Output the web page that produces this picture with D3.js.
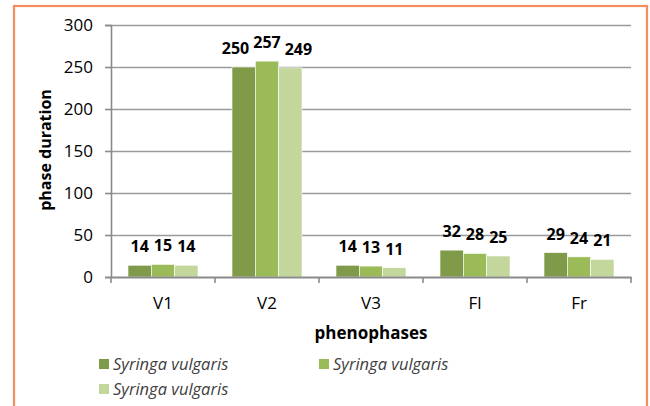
<!DOCTYPE html>
<html>
<head>
<meta charset="utf-8">
<script src="https://cdn.jsdelivr.net/npm/d3@7/dist/d3.min.js"></script>
<style>
  html, body { margin: 0; padding: 0; background: #fff; }
  svg { display: block; font-family: "Open Sans", sans-serif; }
</style>
</head>
<body>
<div id="chart"></div>
<script>
// data
const phases = ['V1', 'V2', 'V3', 'Fl', 'Fr']
const seriesNames = ['Syringa vulgaris', 'Syringa vulgaris', 'Syringa vulgaris']
const series1 = [14, 250, 14, 32, 29]
const series2 = [15, 257, 13, 28, 24]
const series3 = [14, 249, 11, 25, 21]
const yTicks = [0, 50, 100, 150, 200, 250, 300]

const colors = ['#7f9a48', '#9bbb59', '#c3d69b']
const allSeries = [series1, series2, series3]

const W = 650, H = 406
const margin = {top: 25, right: 19, bottom: 129, left: 111}
const width = W - margin.left - margin.right
const height = H - margin.top - margin.bottom

const svg = d3.select('#chart').append('svg')
  .attr('width', W)
  .attr('height', H)

// orange frame
svg.append('rect')
  .attr('x', 14).attr('y', 6)
  .attr('width', 633).attr('height', 420)
  .attr('fill', 'none')
  .attr('stroke', '#f58d5f')
  .attr('stroke-width', 2.2)

const g = svg.append('g')
  .attr('transform', 'translate(' + margin.left + ',' + margin.top + ')')

const x = d3.scaleBand().domain(phases).range([0, width]).paddingInner(0).paddingOuter(0)
const xs = d3.scaleBand().domain([0, 1, 2]).range([17, x.bandwidth() - 17])
const y = d3.scaleLinear().domain([0, 300]).range([height, 0])

// gridlines
g.selectAll('.grid')
  .data(yTicks.filter(d => d > 0))
  .enter().append('line')
  .attr('x1', 0).attr('x2', width)
  .attr('y1', d => y(d) + 0.5).attr('y2', d => y(d) + 0.5)
  .attr('stroke', '#9a9a9a')
  .attr('stroke-width', 1.6)

// y axis
const yAxis = g.append('g')
  .call(d3.axisLeft(y).tickValues(yTicks).tickSize(6).tickPadding(12))
yAxis.select('.domain').attr('stroke', '#8a8a8a').attr('stroke-width', 1.6)
yAxis.selectAll('.tick line').attr('stroke', '#8a8a8a').attr('stroke-width', 1.6)
yAxis.selectAll('.tick text')
  .style('font-size', '17px').style('fill', '#000')
  .style('font-family', '"Open Sans", sans-serif')

// bars + value labels
phases.forEach((p, i) => {
  let labels = []
  allSeries.forEach((s, k) => {
    g.append('rect')
      .attr('x', x(p) + xs(k))
      .attr('width', xs.bandwidth())
      .attr('y', y(s[i]))
      .attr('height', height - y(s[i]))
      .attr('fill', colors[k])
      .attr('stroke', '#fff')
      .attr('stroke-width', 0.6)
    let t = g.append('text')
      .attr('x', x(p) + xs(k) + xs.bandwidth() / 2)
      .attr('y', y(s[i]) - 13)
      .attr('text-anchor', 'middle')
      .style('font-size', '16px')
      .style('font-weight', 'bold')
      .text(s[i])
    labels.push(t)
  })
  // push outer labels apart when they collide, like the spreadsheet does
  const gap = 4
  const box = t => t.node().getBBox()
  let mid = box(labels[1])
  let left = box(labels[0])
  if (left.x + left.width + gap > mid.x) {
    labels[0].attr('x', +labels[0].attr('x') - (left.x + left.width + gap - mid.x))
  }
  let right = box(labels[2])
  if (mid.x + mid.width + gap > right.x) {
    labels[2].attr('x', +labels[2].attr('x') + (mid.x + mid.width + gap - right.x))
  }
})

// x axis
const xAxis = g.append('g')
  .attr('transform', 'translate(0,' + height + ')')
  .call(d3.axisBottom(x).tickSize(0).tickPadding(20))
xAxis.select('.domain').attr('stroke', '#8a8a8a').attr('stroke-width', 1.8)
xAxis.selectAll('.tick text')
  .style('font-size', '17px').style('fill', '#000')
  .style('font-family', '"Open Sans", sans-serif')

// category separator ticks
g.selectAll('.sep')
  .data(phases.concat(['end']))
  .enter().append('line')
  .attr('x1', (d, i) => i * x.bandwidth())
  .attr('x2', (d, i) => i * x.bandwidth())
  .attr('y1', height).attr('y2', height + 6)
  .attr('stroke', '#8a8a8a')
  .attr('stroke-width', 1.6)

// axis titles
svg.append('text')
  .attr('transform', 'translate(51,150) rotate(-90)')
  .attr('text-anchor', 'middle')
  .style('font-size', '16px')
  .style('font-weight', 'bold')
  .text('phase duration')

svg.append('text')
  .attr('x', 371).attr('y', 339)
  .attr('text-anchor', 'middle')
  .style('font-size', '17px')
  .style('font-weight', 'bold')
  .text('phenophases')

// legend
const legendPos = [[99, 364], [319, 364], [99, 389]]
seriesNames.forEach((n, k) => {
  const lg = svg.append('g').attr('transform', 'translate(' + legendPos[k][0] + ',' + legendPos[k][1] + ')')
  lg.append('rect')
    .attr('x', 0).attr('y', -5)
    .attr('width', 10).attr('height', 10)
    .attr('fill', colors[k])
  lg.append('text')
    .attr('x', 14).attr('y', 5.5)
    .style('font-size', '16.5px')
    .style('font-style', 'italic')
    .style('fill', '#404040')
    .text(n)
})
</script>
</body>
</html>
